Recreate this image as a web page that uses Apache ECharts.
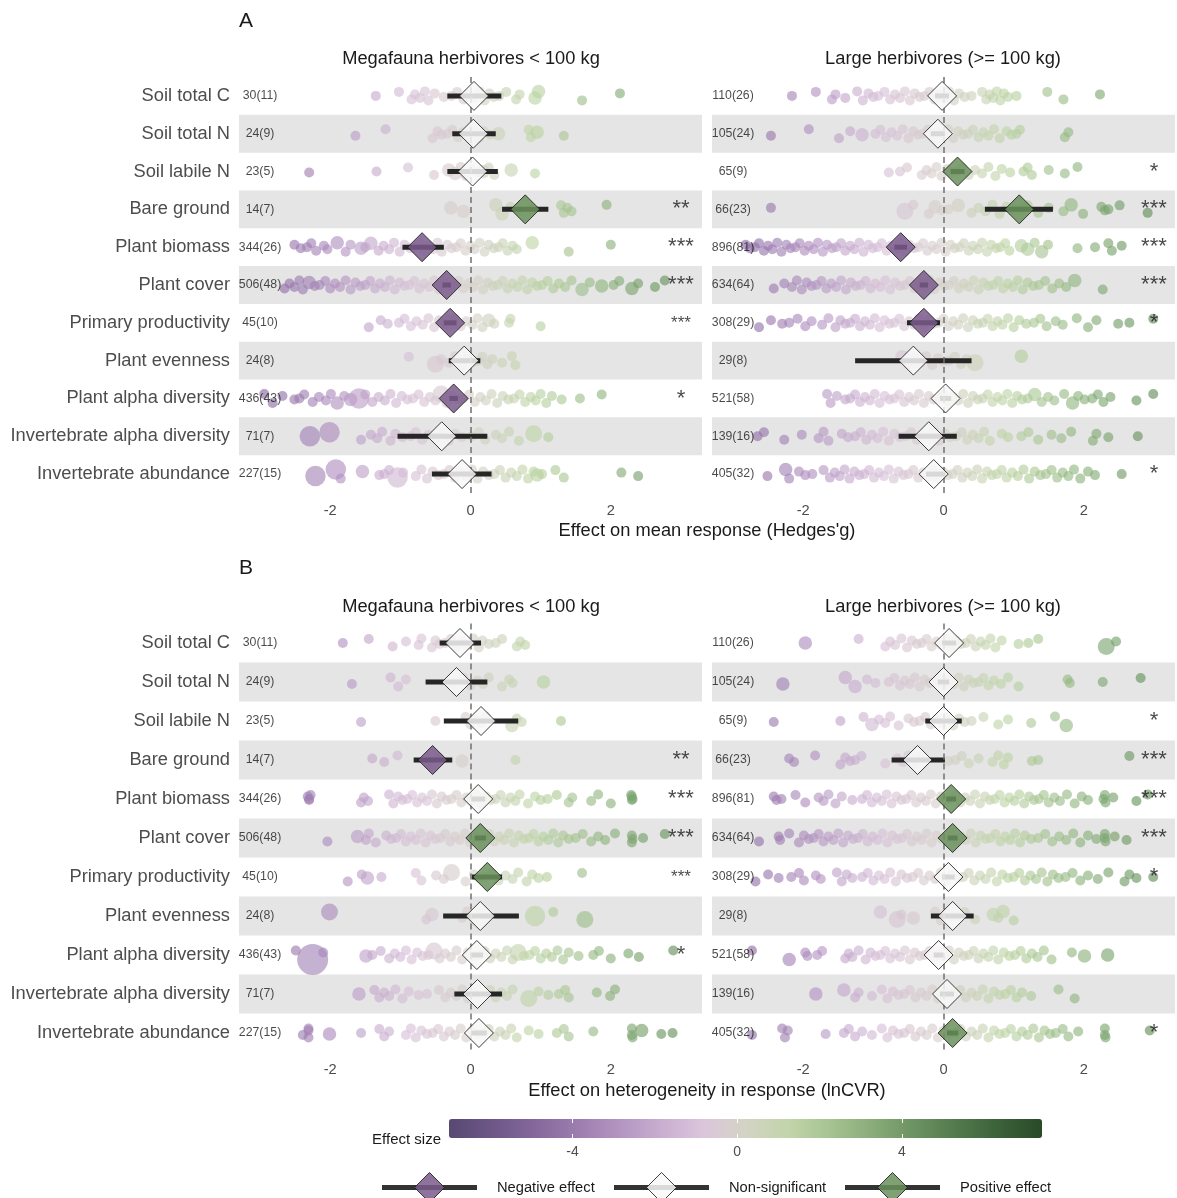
<!DOCTYPE html>
<html>
<head>
<meta charset="utf-8">
<script src="https://cdn.jsdelivr.net/npm/echarts@6/dist/echarts.min.js"></script>
<style>
html, body { margin: 0; padding: 0; background: #fff; }
#chart { width: 1177px; height: 1198px; }
</style>
</head>
<body>
<div id="chart"></div>
<script>
// rows of each facet, top to bottom
var rows = ['Soil total C', 'Soil total N', 'Soil labile N', 'Bare ground', 'Plant biomass', 'Plant cover',
    'Primary productivity', 'Plant evenness', 'Plant alpha diversity', 'Invertebrate alpha diversity', 'Invertebrate abundance'];

var facetTitles = ['Megafauna herbivores < 100 kg', 'Large herbivores (>= 100 kg)'];

// k(studies) labels
var nMega = ['30(11)', '24(9)', '23(5)', '14(7)', '344(26)', '506(48)', '45(10)', '24(8)', '436(43)', '71(7)', '227(15)'];
var nLarge = ['110(26)', '105(24)', '65(9)', '66(23)', '896(81)', '634(64)', '308(29)', '29(8)', '521(58)', '139(16)', '405(32)'];

var starsMega = ['', '', '', '**', '***', '***', '***', '', '*', '', ''];
var starsLarge = ['', '', '*', '***', '***', '***', '*', '', '', '', '*'];
var compressedStars = [[0, 6], [2, 6]];   // [facet, row]

// pooled estimates with CI, sig: -1 negative, 0 ns, 1 positive
var estMegaA = [0.05, 0.04, 0.03, 0.78, -0.69, -0.34, -0.29, -0.09, -0.24, -0.41, -0.12];
var loMegaA  = [-0.33, -0.26, -0.33, 0.45, -0.97, -0.40, -0.38, -0.31, -0.30, -1.04, -0.55];
var hiMegaA  = [0.44, 0.36, 0.39, 1.11, -0.38, -0.28, -0.20, 0.14, -0.18, 0.24, 0.30];
var sigMegaA = [0, 0, 0, 1, -1, -1, -1, 0, -1, 0, 0];

var estLargeA = [-0.02, -0.08, 0.20, 1.08, -0.61, -0.28, -0.28, -0.43, 0.03, -0.21, -0.14];
var loLargeA  = [-0.12, -0.18, 0.10, 0.59, -0.70, -0.34, -0.52, -1.26, -0.05, -0.64, -0.25];
var hiLargeA  = [0.08, 0.02, 0.30, 1.56, -0.52, -0.22, -0.05, 0.40, 0.11, 0.19, 0.03];
var sigLargeA = [0, 0, 1, 1, -1, -1, -1, 0, 0, 0, 0];

var estMegaB = [-0.15, -0.20, 0.15, -0.54, 0.11, 0.14, 0.24, 0.14, 0.09, 0.10, 0.12];
var loMegaB  = [-0.44, -0.64, -0.38, -0.81, 0.01, 0.06, 0.02, -0.39, 0.00, -0.23, 0.01];
var hiMegaB  = [0.15, 0.24, 0.68, -0.26, 0.21, 0.22, 0.45, 0.69, 0.18, 0.45, 0.23];
var sigMegaB = [0, 0, 0, -1, 0, 1, 1, 0, 0, 0, 0];

var estLargeB = [0.08, 0.00, 0.00, -0.37, 0.11, 0.13, 0.07, 0.13, -0.07, 0.05, 0.13];
var loLargeB  = [-0.02, -0.08, -0.26, -0.74, 0.04, 0.06, -0.02, -0.18, -0.14, -0.05, 0.05];
var hiLargeB  = [0.18, 0.08, 0.26, 0.02, 0.18, 0.20, 0.16, 0.43, 0.00, 0.15, 0.21];
var sigLargeB = [0, 0, 0, 0, 1, 1, 0, 0, 0, 0, 1];

// individual effect sizes per row; [x, w] = heavier weighted study
var ptsMegaA = [
    [-1.35,-1.02,-0.84,-0.79,-0.72,-0.65,-0.6,-0.51,-0.38,-0.27,-0.19,-0.1,-0.04,0.05,0.13,0.2,0.27,0.33,0.41,0.51,0.65,0.7,[0.92,2],[0.97,2],1.59,2.13],
    [-1.64,-1.21,-0.54,-0.47,-0.41,-0.33,-0.26,-0.18,-0.11,-0.03,0.04,0.12,0.19,0.28,[0.4,2],0.83,0.86,[0.95,2],1.33],
    [-2.3,-1.34,-0.89,-0.52,[-0.31,2],[-0.22,2],-0.14,-0.07,0.02,0.1,[0.18,2],0.26,0.34,[0.58,2],0.92],
    [[-0.28,2],[-0.1,2],[0.36,2],[0.45,2],0.57,0.69,0.86,1.29,1.33,1.38,1.44,1.94],
    [-2.51,-2.42,-2.33,-2.27,-2.2,-2.09,-2.04,[-1.9,2],-1.78,-1.71,[-1.56,2],-1.5,[-1.42,2],-1.31,-1.24,-1.16,-1.09,-1.01,-0.94,-0.86,-0.8,-0.73,-0.66,-0.6,-0.53,-0.47,-0.41,-0.33,-0.27,-0.2,-0.14,-0.07,0.0,0.06,0.13,0.2,0.26,0.33,0.4,0.46,0.53,0.6,0.66,[0.88,2],1.4,2.0],
    [-2.65,-2.58,-2.51,-2.44,-2.39,[-2.3,2],-2.22,-2.15,-2.07,-2.0,-1.93,-1.86,-1.78,-1.71,-1.64,-1.57,-1.5,-1.43,-1.36,-1.29,-1.22,-1.15,-1.08,-1.01,-0.94,-0.87,-0.8,-0.73,-0.66,-0.59,-0.52,-0.45,-0.38,-0.31,-0.24,-0.17,-0.1,-0.03,0.04,0.11,0.18,0.25,0.32,0.39,0.46,0.53,0.6,0.67,0.74,0.81,0.88,0.95,1.02,1.1,1.18,1.26,1.35,1.44,[1.59,2],1.7,[1.87,2],2.04,2.12,[2.3,2],2.39,2.63,2.77],
    [-1.45,-1.28,-1.18,-1.02,-0.94,-0.85,-0.77,-0.68,-0.6,-0.52,-0.45,-0.37,[-0.3,3],-0.22,-0.14,-0.06,0.03,0.1,0.17,[0.26,2],0.34,0.55,0.57,1.0],
    [-0.88,[-0.5,3],-0.42,-0.31,-0.22,-0.12,-0.04,0.05,0.12,0.17,0.24,0.31,0.45,0.59,0.64],
    [-2.94,-2.82,-2.68,-2.51,-2.44,-2.37,-2.25,-2.16,-2.06,-1.99,[-1.9,2],-1.8,[-1.71,2],[-1.59,4],-1.5,-1.4,-1.31,-1.22,-1.14,-1.06,-0.98,-0.9,-0.82,-0.74,-0.66,-0.58,-0.5,[-0.42,3],-0.34,-0.26,-0.18,-0.1,-0.02,0.06,0.14,0.22,0.3,0.38,0.46,0.54,0.62,0.7,0.78,0.86,0.93,1.0,1.08,1.16,1.3,1.56,1.87],
    [[-2.29,4],[-2.01,4],-1.56,-1.42,-1.33,-1.26,-1.14,-1.07,-0.97,-0.85,-0.78,-0.69,-0.6,-0.5,-0.41,-0.31,-0.22,-0.12,0.02,0.12,0.21,0.36,0.45,0.55,0.69,[0.9,3],1.11],
    [[-2.21,4],[-1.92,4],-1.85,[-1.54,2],-1.3,-1.23,-1.16,[-1.04,4],-0.96,-0.78,-0.7,-0.62,-0.54,-0.46,-0.38,-0.3,-0.22,-0.14,-0.06,0.02,0.1,0.18,0.26,0.34,0.42,0.5,0.58,0.66,0.74,0.82,0.9,[0.95,2],1.02,1.21,1.33,2.15,2.39]
];

var ptsLargeA = [
    [-2.16,-1.82,-1.59,-1.54,-1.4,-1.23,-1.15,-1.07,-1.0,-0.93,-0.84,-0.76,-0.69,-0.62,-0.55,-0.48,-0.41,-0.34,-0.27,-0.2,-0.13,-0.06,0.01,0.08,0.15,0.22,0.3,0.4,0.55,0.61,0.66,0.71,0.76,0.81,0.86,0.92,1.04,1.48,1.71,2.23],
    [-2.46,-1.92,-1.49,-1.33,[-1.16,2],-0.97,-0.9,-0.82,-0.74,-0.66,-0.58,-0.5,-0.43,-0.36,-0.29,-0.22,-0.15,-0.08,0.0,0.07,0.14,0.21,0.28,0.35,0.42,0.5,0.57,0.64,0.72,0.8,0.9,0.97,1.04,1.09,1.73,1.78],
    [-0.78,-0.62,-0.52,-0.31,-0.24,-0.17,-0.1,-0.03,0.05,0.12,0.19,0.27,0.36,0.45,0.55,0.64,0.74,0.83,0.95,1.14,1.2,1.26,1.5,1.73,1.91],
    [-2.46,[-0.55,3],-0.43,-0.21,[-0.12,2],-0.02,0.07,[0.21,2],0.4,0.5,0.6,0.7,0.8,0.9,1.0,1.1,1.2,1.35,1.5,1.71,[1.82,2],1.99,2.25,2.3,2.35,2.51,2.91],
    [-2.82,-2.76,-2.69,-2.63,-2.56,-2.5,-2.44,-2.37,-2.31,-2.24,-2.18,-2.11,-2.05,-1.98,-1.92,-1.85,-1.79,-1.72,-1.66,-1.59,-1.53,-1.46,-1.4,-1.33,-1.27,-1.2,-1.14,-1.07,-1.01,-0.94,-0.88,-0.81,-0.75,-0.68,-0.62,-0.55,-0.49,-0.42,-0.36,-0.29,-0.23,-0.16,-0.1,-0.03,0.03,0.1,0.16,0.23,0.29,0.36,0.42,0.49,0.55,0.62,0.68,0.75,0.81,0.88,0.94,[1.11,2],[1.2,2],1.3,[1.4,2],1.49,1.91,2.16,2.35,2.4,2.54],
    [-2.42,-2.27,-2.16,-2.09,-2.02,-1.95,-1.88,-1.81,-1.74,-1.67,-1.6,-1.53,-1.46,-1.39,-1.32,-1.25,-1.18,-1.11,-1.04,-0.97,-0.9,-0.83,-0.76,-0.69,-0.62,-0.55,-0.48,-0.41,-0.34,-0.27,-0.2,-0.13,-0.06,0.01,0.08,0.15,0.22,0.29,0.36,0.43,0.5,0.57,0.64,0.71,0.78,0.85,0.92,0.99,1.06,1.13,1.2,1.28,1.36,1.45,1.55,1.65,1.75,[1.87,2],2.27],
    [-2.63,-2.46,-2.3,-2.2,-2.08,-1.97,-1.88,-1.73,-1.64,-1.54,-1.47,-1.4,-1.33,-1.26,-1.19,-1.12,-1.05,-0.98,-0.91,-0.84,-0.77,-0.7,-0.63,-0.56,-0.49,-0.42,-0.35,-0.28,-0.21,-0.14,-0.07,0.0,0.07,0.14,0.21,0.28,0.35,0.42,0.49,0.56,0.63,0.7,0.77,0.84,0.92,1.0,1.08,1.18,1.29,1.38,1.47,1.6,1.7,1.9,2.06,2.18,2.49,2.65,2.99],
    [[-0.59,2],-0.5,-0.42,-0.33,-0.25,-0.16,-0.08,0.0,0.08,0.16,0.25,0.33,[0.45,3],[1.11,2]],
    [-1.66,-1.61,-1.52,-1.4,-1.33,-1.26,-1.19,-1.12,-1.05,-0.98,-0.91,-0.84,-0.77,-0.7,-0.63,-0.56,-0.49,-0.42,-0.35,-0.28,-0.21,-0.14,-0.07,0.0,0.07,0.14,0.21,0.28,0.35,0.42,0.49,0.56,0.63,0.7,0.77,0.84,0.91,0.98,1.05,1.12,1.2,[1.3,2],1.4,1.49,1.58,1.72,[1.84,2],1.92,2.01,2.12,2.2,2.28,2.38,2.75,2.99],
    [-2.65,-2.56,-2.27,-2.02,-1.78,-1.71,-1.64,-1.45,-1.36,-1.26,-1.18,-1.1,-1.02,-0.94,-0.86,-0.78,-0.7,-0.62,-0.54,-0.46,-0.38,-0.3,-0.22,-0.14,-0.06,0.02,0.1,0.18,0.26,0.34,0.42,0.5,0.58,0.66,0.83,0.92,1.11,1.21,1.35,1.54,1.68,1.82,2.13,2.18,2.35,2.77],
    [-2.51,[-2.25,2],-2.2,-2.06,-1.97,-1.87,-1.71,-1.62,-1.55,-1.48,-1.41,-1.34,-1.27,-1.2,-1.13,-1.06,-0.99,-0.92,-0.85,-0.78,-0.71,-0.64,-0.57,-0.5,-0.43,-0.36,-0.29,-0.22,-0.15,-0.08,-0.01,0.06,0.13,0.2,0.27,0.34,0.41,0.48,0.55,0.62,0.69,0.76,0.83,0.9,0.98,1.06,1.14,1.22,1.3,1.38,1.46,1.54,1.62,1.7,1.78,1.86,1.95,2.06,2.16,2.54]
];

var ptsMegaB = [
    [-1.82,-1.45,-1.11,-0.92,-0.74,-0.7,-0.55,-0.5,-0.44,-0.36,-0.28,-0.2,-0.12,-0.04,0.04,0.12,0.17,0.26,0.36,0.45,0.66,0.71,0.78],
    [-1.69,-1.14,-1.03,-0.92,-0.3,-0.2,-0.1,0.0,0.1,0.18,0.26,0.45,0.55,0.6,[1.04,2]],
    [-1.56,-0.5,-0.07,0.0,0.08,0.15,0.22,[0.59,2],0.66,0.73,1.29],
    [-1.4,-1.23,-1.04,-0.6,-0.45,[-0.12,2],0.64],
    [-2.32,-2.3,-2.3,-2.28,-1.56,-1.52,-1.46,-1.16,-1.1,-1.03,-0.97,-0.9,-0.83,-0.76,-0.69,-0.62,-0.55,-0.48,-0.41,-0.34,-0.27,-0.2,-0.13,-0.06,0.01,0.08,0.15,0.22,0.29,0.36,0.43,0.5,0.57,0.64,0.7,0.82,0.92,1.0,1.1,1.23,1.4,1.45,1.72,1.82,2.0,2.3,2.3,2.31,2.29],
    [-2.04,[-1.61,2],-1.49,-1.45,-1.35,-1.2,-1.13,-1.06,-0.99,-0.92,-0.85,-0.78,-0.71,-0.64,-0.57,-0.5,-0.43,-0.36,-0.29,-0.22,-0.15,-0.08,-0.01,0.06,0.13,0.2,0.27,0.34,0.41,0.48,0.55,0.62,0.69,0.76,0.83,0.9,0.97,1.04,1.11,1.18,1.25,1.32,1.4,1.5,1.6,1.72,1.82,1.92,2.06,2.3,2.3,2.31,2.46,2.77],
    [-1.75,-1.55,[-1.47,2],-1.27,-0.78,-0.7,-0.49,-0.38,[-0.27,3],-0.07,0.05,0.12,0.2,0.3,0.4,0.5,0.6,0.68,0.8,0.88,0.97,1.09,1.59],
    [[-2.01,3],-0.63,[-0.55,2],-0.12,-0.05,0.05,0.15,0.25,[0.92,4],1.18,[1.63,3]],
    [-2.49,[-2.25,7],-2.1,[-1.49,2],-1.4,-1.28,-1.16,-1.08,-1.0,-0.92,-0.84,-0.76,-0.68,-0.6,[-0.52,3],-0.44,-0.36,-0.28,-0.2,-0.12,-0.04,0.04,0.12,0.2,0.28,0.36,0.44,0.52,0.6,[0.68,3],0.76,0.84,0.92,1.0,1.08,1.16,1.24,1.32,1.4,1.54,1.75,1.83,2.0,2.25,2.4,2.89],
    [[-1.59,2],-1.37,-1.3,-1.23,-1.16,-1.07,-0.97,-0.88,-0.74,-0.62,-0.45,-0.36,-0.28,-0.2,-0.12,-0.04,0.04,0.12,0.2,0.28,0.36,0.44,0.52,0.6,[0.83,3],0.97,1.11,1.26,1.35,1.4,1.8,1.99,2.06],
    [-2.39,-2.31,-2.31,-2.31,[-2.01,2],-1.56,-1.3,-1.23,-1.16,-0.92,-0.85,-0.78,-0.7,-0.62,-0.54,-0.46,-0.38,-0.3,-0.22,-0.14,-0.06,0.02,0.1,0.18,0.26,0.34,0.42,0.5,0.58,0.66,0.83,0.97,1.23,1.33,1.4,1.75,2.3,2.3,2.31,[2.44,2],2.72,2.88]
];

var ptsLargeB = [
    [[-1.97,2],-1.21,-0.83,-0.76,-0.69,-0.6,-0.52,-0.45,-0.38,-0.31,-0.24,-0.17,-0.1,-0.03,0.04,0.11,0.18,0.25,0.32,0.39,0.46,0.53,0.6,0.67,0.74,0.83,1.07,1.21,1.35,[2.32,3],2.46],
    [[-2.29,2],[-1.4,2],[-1.26,2],-1.09,-0.97,-0.78,-0.7,-0.62,-0.55,-0.48,-0.41,-0.34,-0.27,-0.2,-0.13,-0.06,0.01,0.08,0.15,0.22,0.29,0.36,0.43,0.5,0.57,0.64,0.72,0.82,0.92,1.07,1.77,1.8,2.27,2.81],
    [-2.42,-1.47,-1.14,[-1.02,2],-0.92,-0.83,-0.76,-0.64,-0.5,-0.42,-0.34,-0.26,-0.18,-0.1,-0.02,0.06,0.14,0.22,0.3,0.4,0.57,0.78,0.92,1.25,1.59,[1.75,2]],
    [-2.2,-2.13,-1.83,-1.47,-1.4,-1.33,-1.26,-1.17,-0.83,-0.66,-0.58,-0.5,-0.42,-0.34,0.07,0.17,0.26,0.36,0.5,0.7,0.78,0.86,0.92,1.26,1.35,2.65],
    [-2.42,-2.38,-2.31,-2.11,-1.97,-1.78,-1.71,-1.64,-1.54,-1.45,-1.3,-1.16,-1.09,-1.02,-0.95,-0.88,-0.81,-0.74,-0.67,-0.6,-0.53,-0.46,-0.39,-0.32,-0.25,-0.18,-0.11,-0.04,0.03,0.1,0.17,0.24,0.31,0.38,0.45,0.52,0.59,0.66,0.73,0.8,0.87,0.94,1.01,1.08,1.15,1.22,1.29,1.36,1.43,1.5,1.58,1.66,1.76,1.87,1.97,2.06,2.28,2.3,2.31,2.42,2.75,2.91],
    [-2.63,-2.35,-2.33,-2.2,-2.06,-1.99,-1.92,-1.85,-1.78,-1.71,-1.64,-1.57,-1.5,-1.43,-1.36,-1.29,-1.22,-1.15,-1.08,-1.01,-0.94,-0.87,-0.8,-0.73,-0.66,-0.59,-0.52,-0.45,-0.38,-0.31,-0.24,-0.17,-0.1,-0.03,0.04,0.11,0.18,0.25,0.32,0.39,0.46,0.53,0.6,0.67,0.74,0.81,0.88,0.95,1.02,1.09,1.16,1.25,1.35,1.45,1.55,1.65,1.75,1.85,1.95,2.06,2.18,2.3,2.3,2.31,2.44,2.61],
    [-2.68,-2.5,-2.35,-2.17,-2.06,-1.99,-1.82,-1.75,-1.52,-1.45,-1.38,-1.3,-1.16,-1.08,-1.0,-0.92,-0.84,-0.76,-0.68,-0.6,-0.52,-0.44,-0.36,-0.28,-0.2,-0.12,-0.04,0.04,0.12,0.2,0.28,0.36,0.44,0.52,0.6,0.68,0.76,0.84,0.92,1.0,1.08,1.16,1.24,1.32,1.4,1.48,1.56,1.64,1.74,1.84,1.95,2.06,2.2,2.35,2.58,2.65,2.75,2.99],
    [[-0.9,2],[-0.66,3],-0.6,[-0.43,2],-0.12,-0.04,0.04,0.12,0.2,0.3,0.45,[0.71,2],0.78,[0.85,2],1.0],
    [-2.73,[-2.2,2],-1.97,-1.94,-1.8,-1.73,-1.4,-1.35,-1.3,-1.21,-1.11,-1.04,-0.97,-0.9,-0.83,-0.76,-0.69,-0.62,-0.55,-0.48,-0.41,-0.34,-0.27,-0.2,-0.13,-0.06,0.01,0.08,0.15,0.22,0.29,0.36,0.43,0.5,0.57,0.64,0.71,0.78,0.86,0.94,1.02,1.1,1.18,1.26,1.34,1.43,1.54,1.83,[2.01,2],[2.34,2]],
    [[-1.82,2],[-1.42,2],-1.26,-1.21,-1.02,-0.88,-0.8,-0.72,-0.64,-0.56,-0.48,-0.4,-0.32,-0.24,-0.16,-0.08,0.0,0.08,0.16,0.24,0.32,0.4,0.48,0.56,0.64,0.72,0.8,0.88,0.96,1.04,1.12,1.25,1.64,1.87],
    [-2.73,-2.3,-2.26,-2.22,-1.68,-1.42,-1.35,-1.26,-1.16,-1.02,-0.88,-0.8,-0.72,-0.64,-0.56,-0.48,-0.4,-0.32,-0.24,-0.16,-0.08,0.0,0.08,0.16,0.24,0.32,0.4,0.48,0.56,0.64,0.72,0.8,0.88,0.96,1.04,1.12,1.2,1.28,1.36,1.44,1.52,1.6,1.7,1.78,1.92,2.3,2.3,2.31,2.94]
];

// colour bar ticks / ranges
var cbTicks = [-4, 0, 4];
var cbColors = ['#584872', '#6c5787', '#84679b', '#9c7cae', '#b394c0', '#c8aed0', '#dbc6dc', '#d4d3c4',
    '#c2d5aa', '#a6c391', '#8aab7a', '#6c9262', '#52794c', '#3b6139', '#294a28'];
var ptColors = ['#6e4e88', '#8f6ea6', '#b393c2', '#d6bfd7', '#d6d0c9', '#bdd4a4', '#93b882', '#67945d', '#4a7845'];
var sigColors = ['#7a5a8c', '#f8f8f8', '#6a905c'];   // negative, ns, positive
var legendNames = ['Negative effect', 'Non-significant', 'Positive effect'];

var FONT = "'Liberation Sans', Arial, Helvetica, sans-serif";

var facets = [
    {pts: ptsMegaA, est: estMegaA, lo: loMegaA, hi: hiMegaA, sig: sigMegaA, n: nMega, stars: starsMega},
    {pts: ptsLargeA, est: estLargeA, lo: loLargeA, hi: hiLargeA, sig: sigLargeA, n: nLarge, stars: starsLarge},
    {pts: ptsMegaB, est: estMegaB, lo: loMegaB, hi: hiMegaB, sig: sigMegaB, n: nMega, stars: starsMega},
    {pts: ptsLargeB, est: estLargeB, lo: loLargeB, hi: hiLargeB, sig: sigLargeB, n: nLarge, stars: starsLarge}
];

var grids = [
    {left: 239, top: 77, width: 463, height: 416},
    {left: 712, top: 77, width: 463, height: 416},
    {left: 239, top: 623.5, width: 463, height: 429},
    {left: 712, top: 623.5, width: 463, height: 429},
    {left: 449, top: 1119, width: 593, height: 19}   // colour bar
];

var jit = [0, -4, 3.5, -1.5, 2, -4.5, 4.5, -2.5, 1];
function ptSize(w) { return 6.5 + 3.5 * w; }

var xAxes = [], yAxes = [], series = [], pointIdx = [];

facets.forEach(function (fc, f) {
    xAxes.push({
        gridIndex: f, type: 'value', min: -3.3, max: 3.3,
        axisLine: {show: false}, axisTick: {show: false}, splitLine: {show: false},
        axisLabel: {customValues: [-2, 0, 2], color: '#4d4d4d', fontSize: 14.7, fontFamily: FONT, margin: 10}
    });
    yAxes.push({
        gridIndex: f, type: 'category', data: rows, inverse: true,
        axisLine: {show: false}, axisTick: {show: false}, splitLine: {show: false},
        splitArea: {show: true, interval: 0, areaStyle: {color: ['rgba(255,255,255,0)', '#e5e5e5']}},
        axisLabel: {show: f % 2 === 0, interval: 0, color: '#4d4d4d', fontSize: 18.3, fontFamily: FONT,
            margin: 9, padding: [3, 0, 0, 0]}
    });

    var pdata = [];
    fc.pts.forEach(function (row, r) {
        row.forEach(function (v, i) {
            var x = typeof v === 'number' ? v : v[0];
            var w = typeof v === 'number' ? 1 : v[1];
            pdata.push({value: [x, r], symbolSize: ptSize(w), symbolOffset: [0, jit[(i + r * 4) % jit.length]]});
        });
    });
    pointIdx.push(series.length);
    series.push({
        type: 'scatter', xAxisIndex: f, yAxisIndex: f, data: pdata, silent: true, z: 2,
        itemStyle: {opacity: 0.62}
    });

    // zero line
    series.push({
        type: 'line', xAxisIndex: f, yAxisIndex: f, data: [], z: 3, silent: true,
        markLine: {
            silent: true, symbol: ['none', 'none'], label: {show: false},
            lineStyle: {type: [6, 4], color: '#707070', width: 1.5},
            data: [{xAxis: 0}]
        }
    });

    // confidence intervals
    series.push({
        type: 'custom', xAxisIndex: f, yAxisIndex: f, z: 4, silent: true,
        data: fc.est.map(function (e, r) { return [fc.lo[r], fc.hi[r], r]; }),
        encode: {x: [0, 1], y: 2},
        renderItem: function (params, api) {
            var a = api.coord([api.value(0), api.value(2)]);
            var b = api.coord([api.value(1), api.value(2)]);
            return {type: 'rect', shape: {x: a[0], y: a[1] - 2.5, width: b[0] - a[0], height: 5},
                style: {fill: '#262626'}};
        }
    });

    // pooled estimate diamonds
    series.push({
        type: 'scatter', xAxisIndex: f, yAxisIndex: f, z: 5, silent: true,
        symbol: 'diamond', symbolSize: 29,
        itemStyle: {opacity: 0.85, borderColor: '#1a1a1a', borderWidth: 1},
        data: fc.est.map(function (e, r) {
            return {value: [e, r], itemStyle: {color: sigColors[fc.sig[r] + 1]}};
        })
    });

    // k(studies) labels
    series.push({
        type: 'scatter', xAxisIndex: f, yAxisIndex: f, z: 6, silent: true, symbolSize: 1,
        itemStyle: {color: 'rgba(0,0,0,0)'},
        label: {show: true, position: 'inside', formatter: '{b}', fontSize: 12.3, color: '#1a1a1a',
            fontFamily: FONT, padding: [2, 0, 0, 0]},
        data: fc.n.map(function (t, r) { return {name: t, value: [-3, r]}; })
    });

    // significance stars
    var sdata = [];
    fc.stars.forEach(function (t, r) {
        if (!t) return;
        var small = compressedStars.some(function (c) { return c[0] === f && c[1] === r; });
        sdata.push({name: t, value: [3, r], label: small ? {fontSize: 17} : {}});
    });
    series.push({
        type: 'scatter', xAxisIndex: f, yAxisIndex: f, z: 6, silent: true, symbolSize: 1,
        itemStyle: {color: 'rgba(0,0,0,0)'},
        label: {show: true, position: 'inside', formatter: '{b}', fontSize: 22, color: '#1a1a1a', fontFamily: FONT},
        data: sdata
    });
});

// colour bar axis
xAxes.push({
    gridIndex: 4, type: 'value', min: -7, max: 7.4, z: 10,
    axisLine: {show: false}, splitLine: {show: false},
    axisTick: {show: true, inside: true, length: 4, customValues: cbTicks, lineStyle: {color: '#ffffff', width: 1}},
    axisLabel: {customValues: cbTicks, color: '#4d4d4d', fontSize: 14, fontFamily: FONT, margin: 7}
});
xAxes.push({
    gridIndex: 4, type: 'value', min: -7, max: 7.4, z: 10, position: 'top',
    axisLine: {show: false}, splitLine: {show: false}, axisLabel: {show: false},
    axisTick: {show: true, inside: true, length: 4, customValues: cbTicks, lineStyle: {color: '#ffffff', width: 1}}
});
yAxes.push({gridIndex: 4, type: 'value', min: 0, max: 1, show: false});
var cbIdx = series.length;
series.push({type: 'scatter', xAxisIndex: 4, yAxisIndex: 4, data: []});

function txt(t, x, y, size, align, color) {
    return {
        type: 'text', silent: true, z: 20,
        style: {text: t, x: x, y: y, fill: color || '#1a1a1a', font: size + 'px ' + FONT,
            align: align, textAlign: align, verticalAlign: 'middle', textVerticalAlign: 'middle'}
    };
}

var graphics = [
    txt('A', 246, 21, 21, 'center'),
    txt('B', 246, 568, 21, 'center'),
    txt(facetTitles[0], 471, 58.5, 18.3, 'center'),
    txt(facetTitles[1], 943, 58.5, 18.3, 'center'),
    txt(facetTitles[0], 471, 606.5, 18.3, 'center'),
    txt(facetTitles[1], 943, 606.5, 18.3, 'center'),
    txt("Effect on mean response (Hedges'g)", 707, 531, 18.3, 'center'),
    txt('Effect on heterogeneity in response (lnCVR)', 707, 1091, 18.3, 'center'),
    txt('Effect size', 441, 1140, 15, 'right')
];

// legend keys
var legendX = [382, 614, 845];
legendX.forEach(function (lx, i) {
    var cx = lx + 47.5, cy = 1187.5;
    graphics.push({type: 'rect', silent: true, z: 20, shape: {x: lx, y: cy - 2.5, width: 95, height: 5}, style: {fill: '#333333'}});
    graphics.push({type: 'polygon', silent: true, z: 21,
        shape: {points: [[cx, cy - 15], [cx + 15, cy], [cx, cy + 15], [cx - 15, cy]]},
        style: {fill: sigColors[i], stroke: '#1a1a1a', lineWidth: 1, opacity: 0.85}});
    graphics.push(txt(legendNames[i], lx + 115, cy, 14.7, 'left'));
});

var option = {
    animation: false,
    backgroundColor: '#ffffff',
    grid: grids,
    xAxis: xAxes,
    yAxis: yAxes,
    visualMap: [
        {
            type: 'continuous', show: false, min: -3.6, max: 3.6, dimension: 0,
            seriesIndex: pointIdx, inRange: {color: ptColors}
        },
        {
            type: 'continuous', show: true, orient: 'horizontal', min: -7, max: 7.4, dimension: 0,
            seriesIndex: [cbIdx], left: 449, top: 1119, itemWidth: 19, itemHeight: 593,
            calculable: false, hoverLink: false, padding: 0, inRange: {color: cbColors}
        }
    ],
    graphic: graphics,
    series: series
};

var chart = echarts.init(document.getElementById('chart'));
chart.setOption(option);
</script>
</body>
</html>
